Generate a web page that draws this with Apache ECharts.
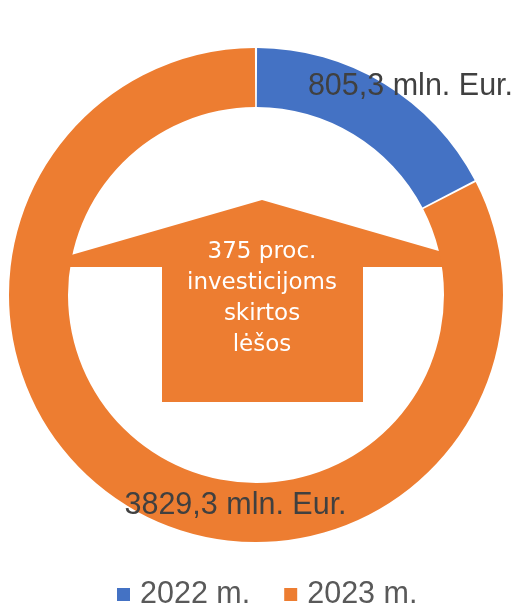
<!DOCTYPE html>
<html>
<head>
<meta charset="utf-8">
<script src="https://cdn.jsdelivr.net/npm/echarts@6/dist/echarts.min.js"></script>
<style>
html, body { margin: 0; padding: 0; background: #fff; }
#chart1 { width: 517px; height: 605px; }
</style>
</head>
<body>
<div id="chart1"></div>
<script>
// data
const years = ['2022 m.', '2023 m.'];
const amounts = [805.3, 3829.3];
const colors = ['#4472C4', '#ED7D31'];
const labelShift = [[40, -20], [94, 22]];
const centerText = ['375 proc.', 'investicijoms', 'skirtos', 'lėšos'];

let dom1 = document.getElementById('chart1');
let Chart1 = echarts.init(dom1);

// pie geometry
const cx = 256, cy = 295;

let pieData = [];
for (let i = 0; i < years.length; i++) {
    pieData.push({
        name: years[i],
        value: amounts[i],
        itemStyle: { color: colors[i] },
        label: { offset: labelShift[i] }
    });
}

let option1 = {
    animation: false,
    legend: {
        data: years,
        left: 112,
        top: 574,
        icon: 'rect',
        itemWidth: 13,
        itemHeight: 13,
        itemGap: 34,
        textStyle: {
            fontFamily: 'Liberation Sans',
            fontSize: 30.5,
            color: '#595959',
            padding: [0, 0, 0, 5]
        }
    },
    graphic: [
        {
            // arrow behind the ring
            type: 'polygon',
            z: 0,
            shape: {
                points: [[262, 200], [470, 260], [470, 267], [363, 267], [363, 402],
                         [162, 402], [162, 267], [40, 267], [40, 264]]
            },
            style: { fill: '#ED7D31' }
        },
        {
            type: 'text',
            z: 1,
            x: 262,
            y: 299,
            style: {
                text: centerText.join('\n'),
                fill: '#fff',
                font: '23px "DejaVu Sans"',
                lineHeight: 31,
                align: 'center',
                verticalAlign: 'middle'
            }
        }
    ],
    series: [
        {
            name: 'lėšos',
            type: 'pie',
            z: 2,
            center: [cx, cy],
            radius: [188, 247],
            startAngle: 90,
            padAngle: 0.5,
            clockwise: true,
            label: {
                show: true,
                position: 'inside',
                fontFamily: 'Liberation Sans',
                fontSize: 30.5,
                color: '#404040',
                formatter: function (p) {
                    return p.value.toFixed(1).replace('.', ',') + ' mln. Eur.';
                }
            },
            labelLine: { show: false },
            emphasis: { disabled: true },
            data: pieData
        }
    ]
};

Chart1.setOption(option1);
</script>
</body>
</html>
